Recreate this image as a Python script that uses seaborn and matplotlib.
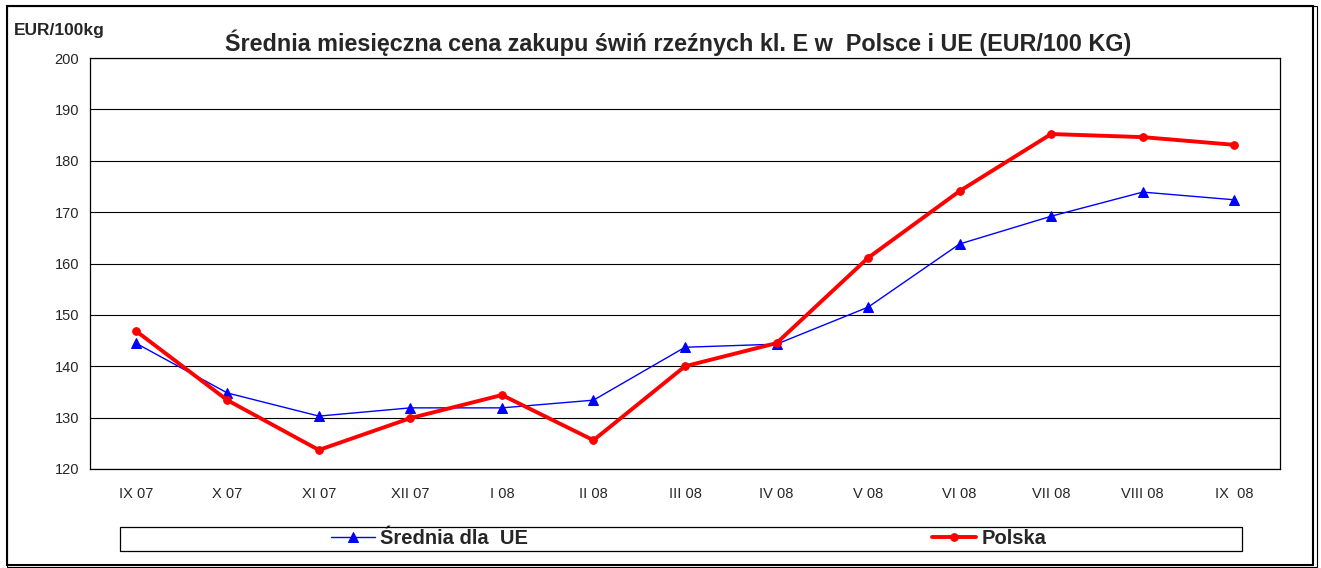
import matplotlib
matplotlib.use("Agg")
import matplotlib.pyplot as plt
from matplotlib.patches import Rectangle
import pandas as pd
import seaborn as sns

months = ["IX 07", "X 07", "XI 07", "XII 07", "I 08", "II 08", "III 08",
          "IV 08", "V 08", "VI 08", "VII 08", "VIII 08", "IX  08"]
ue = [144.5, 134.8, 130.3, 131.9, 131.9, 133.4, 143.7,
      144.3, 151.5, 163.8, 169.2, 173.9, 172.4]
polska = [146.9, 133.4, 123.7, 129.9, 134.4, 125.6, 140.0,
          144.5, 161.1, 174.1, 185.2, 184.6, 183.1]

sns.set_style("white")
plt.rcParams['font.family'] = ['Liberation Sans', 'DejaVu Sans']

W, H = 1321, 568
fig = plt.figure(figsize=(W / 100, H / 100), dpi=100)
ax = fig.add_axes([90 / W, 1 - 469 / H, (1280 - 90) / W, (469 - 58) / H])

df = pd.DataFrame({"x": range(len(months)), "ue": ue, "polska": polska})
sns.lineplot(data=df, x="x", y="ue", ax=ax, color="#0000ff", lw=1,
             marker="^", markersize=7, markeredgecolor="#0000ff",
             label="Średnia dla  UE")
sns.lineplot(data=df, x="x", y="polska", ax=ax, color="#ff0000", lw=2.8,
             marker="o", markersize=5.5, markeredgecolor="#ff0000",
             label="Polska")

ax.set_xlim(-0.5, len(months) - 0.5)
ax.set_ylim(120, 200)
ax.set_yticks(range(120, 201, 10))
ax.set_xticks(range(len(months)))
ax.set_xticklabels(months, fontsize=10.5)
ax.set_xticks([i + 0.5 for i in range(-1, len(months))], minor=True)
ax.tick_params(axis="x", which="major", length=0, pad=13)
ax.tick_params(axis="x", which="minor", length=5, direction="out", color="black", width=0.8)
ax.tick_params(axis="y", length=5, direction="out", color="black", width=0.8, labelsize=10.5, pad=3)
ax.yaxis.grid(True, color="black", lw=0.8)
for s in ax.spines.values():
    s.set_color("black")
    s.set_linewidth(0.9)
ax.set_xlabel("")
ax.set_ylabel("")

fig.text(14 / W, 1 - 35 / H, "EUR/100kg", fontsize=12.5, fontweight="bold", va="baseline")
fig.text(678 / W, 1 - 51 / H,
         "Średnia miesięczna cena zakupu świń rzeźnych kl. E w  Polsce i UE (EUR/100 KG)",
         fontsize=16.8, fontweight="bold", ha="center", va="baseline")

# legend box
fig.add_artist(Rectangle((120 / W, 1 - 551 / H), (1242 - 120) / W, 24 / H,
                         transform=fig.transFigure, fill=False, ec="black", lw=0.9))
handles, labels = ax.get_legend_handles_labels()
legs = []
for h, l, x0 in zip(handles, labels, [331, 932]):
    lg = ax.legend([h], [l], loc="center left", bbox_to_anchor=(x0 / W, 1 - 539 / H),
                   bbox_transform=fig.transFigure, frameon=False, borderpad=0,
                   borderaxespad=0, handlelength=2.2, handletextpad=0.25,
                   prop={"weight": "bold", "size": 14.5})
    legs.append(lg)
ax.add_artist(legs[0])

# outer frame
fig.add_artist(Rectangle((7 / W, 1 - 565 / H), (1313 - 7) / W, (565 - 6) / H,
                         transform=fig.transFigure, fill=False, ec="black", lw=1.5))
fig.add_artist(Rectangle((7 / W, 1 - 567 / H), (1317 - 7) / W, (567 - 6) / H,
                         transform=fig.transFigure, fill=False, ec="black", lw=0.8))

fig.savefig("out.png", dpi=100)
